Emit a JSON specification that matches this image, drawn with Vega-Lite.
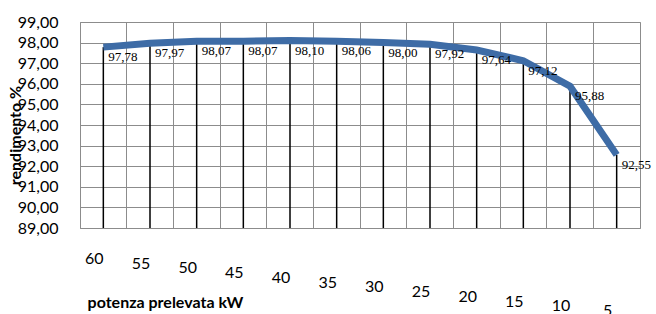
{
  "$schema": "https://vega.github.io/schema/vega-lite/v6.json",
  "width": 560,
  "height": 206,
  "autosize": {"type": "none"},
  "padding": {"left": 80, "top": 22, "right": 16, "bottom": 86},
  "background": "white",
  "config": {
    "locale": {"number": {"decimal": ",", "thousands": ".", "grouping": [3], "currency": ["", " €"]}},
    "font": "Lato"
  },
  "view": {"stroke": "#8c8c8c", "strokeWidth": 1},
  "data": {
    "values": [
      {"kw": 60, "eta": 97.78},
      {"kw": 55, "eta": 97.97},
      {"kw": 50, "eta": 98.07},
      {"kw": 45, "eta": 98.07},
      {"kw": 40, "eta": 98.10},
      {"kw": 35, "eta": 98.06},
      {"kw": 30, "eta": 98.00},
      {"kw": 25, "eta": 97.92},
      {"kw": 20, "eta": 97.64},
      {"kw": 15, "eta": 97.12},
      {"kw": 10, "eta": 95.88},
      {"kw": 5, "eta": 92.55}
    ]
  },
  "encoding": {
    "x": {
      "field": "kw",
      "type": "ordinal",
      "sort": "descending",
      "scale": {"type": "band", "paddingInner": 0, "paddingOuter": 0},
      "axis": {
        "title": "potenza prelevata kW",
        "titleFont": "Lato",
        "titleFontSize": 16,
        "titleFontWeight": "bold",
        "titleColor": "#000000",
        "titleX": 85,
        "titleY": 66,
        "titleAlign": "center",
        "labelAngle": 0,
        "labelFont": "Lato",
        "labelFontSize": 16,
        "labelColor": "#000000",
        "labelOffset": -9,
        "labelBaseline": "middle",
        "labelOverlap": false,
        "labelPadding": {
          "condition": [
            {"test": "datum.value == 60", "value": 30},
            {"test": "datum.value == 55", "value": 35},
            {"test": "datum.value == 50", "value": 39},
            {"test": "datum.value == 45", "value": 44},
            {"test": "datum.value == 40", "value": 49},
            {"test": "datum.value == 35", "value": 54},
            {"test": "datum.value == 30", "value": 58},
            {"test": "datum.value == 25", "value": 63},
            {"test": "datum.value == 20", "value": 68},
            {"test": "datum.value == 15", "value": 73},
            {"test": "datum.value == 10", "value": 77}
          ],
          "value": 82
        },
        "ticks": false,
        "domain": false,
        "grid": true,
        "gridColor": "#8c8c8c",
        "gridOpacity": 1,
        "gridWidth": 1,
        "bandPosition": 0,
        "zindex": 0
      }
    },
    "y": {
      "field": "eta",
      "type": "quantitative",
      "scale": {"domain": [89, 99], "nice": false, "zero": false},
      "axis": {
        "title": "rendimento %",
        "titleFont": "Lato",
        "titleFontSize": 16,
        "titleFontWeight": "bold",
        "titleColor": "#000000",
        "titleX": -65,
        "titleY": 113,
        "titleAlign": "center",
        "titleAngle": -90,
        "titleBaseline": "middle",
        "format": ".2f",
        "values": [89, 90, 91, 92, 93, 94, 95, 96, 97, 98, 99],
        "labelOverlap": false,
        "labelFont": "Lato",
        "labelFontSize": 16,
        "labelColor": "#000000",
        "labelPadding": 22,
        "ticks": false,
        "domain": false,
        "grid": true,
        "gridColor": "#8c8c8c",
        "gridOpacity": 1,
        "gridWidth": 1,
        "zindex": 0
      }
    }
  },
  "layer": [
    {
      "mark": {"type": "rule", "color": "#000000", "strokeWidth": 1.5},
      "encoding": {
        "y2": {"datum": 89}
      }
    },
    {
      "mark": {"type": "line", "color": "#3e6ca6", "strokeWidth": 7, "strokeJoin": "miter", "strokeCap": "butt"},
      "encoding": {}
    },
    {
      "mark": {"type": "text", "align": "left", "baseline": "middle", "dx": 5, "dy": 10, "font": "Liberation Serif", "fontSize": 13, "color": "#000000"},
      "encoding": {
        "text": {"field": "eta", "type": "quantitative", "format": ".2f"}
      }
    }
  ]
}
